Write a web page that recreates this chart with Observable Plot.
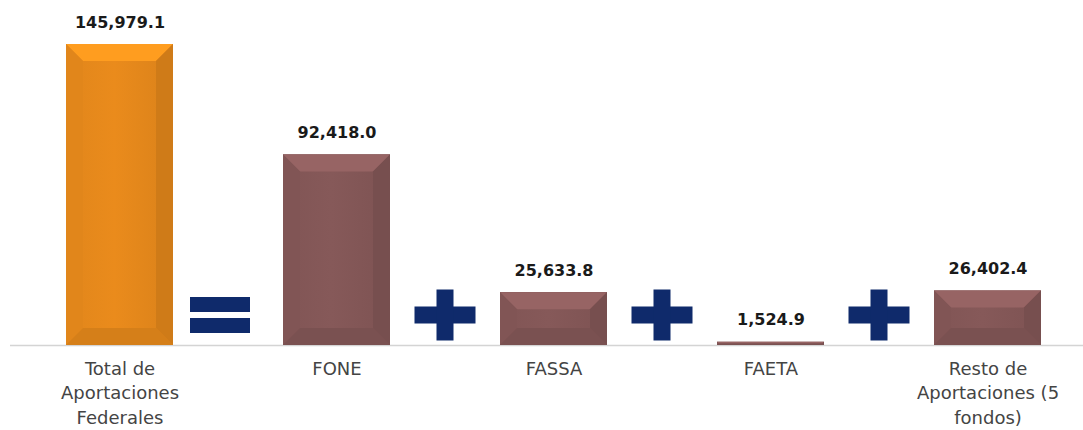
<!DOCTYPE html>
<html>
<head>
<meta charset="utf-8">
<script src="https://cdn.jsdelivr.net/npm/d3@7"></script>
<script src="https://cdn.jsdelivr.net/npm/@observablehq/plot@0.6"></script>
<style>
  html, body { margin: 0; padding: 0; background: #ffffff; }
  #chart svg { display: block; }
</style>
</head>
<body>
<div id="chart"></div>
<script>
// ---- data ----
const categories = ["Total de\nAportaciones\nFederales", "FONE", "FASSA", "FAETA", "Resto de\nAportaciones (5\nfondos)"];
const values = [145979.1, 92418.0, 25633.8, 1524.9, 26402.4];
const operators = ["=", "+", "+", "+"];
const barColors = ["#e5881b", "#835757", "#835757", "#835757", "#835757"];

const data = categories.map((c, i) => ({cat: c, value: values[i], color: barColors[i]}));
const fmt = d3.format(",.1f");
const NAVY = "#0f2a6b";

function bandInfo(x) {
  let bw = typeof x.bandwidth === "function" ? x.bandwidth() : x.bandwidth;
  if (!(bw > 0)) {
    const step = x(categories[1]) - x(categories[0]);
    bw = step * (1 - 0.507);
  }
  return bw;
}

// bevelled bars drawn through the plot's scales
function bevels(index, scales, vals, dims) {
  const {x, y} = scales;
  const bw = bandInfo(x);
  const g = d3.create("svg:g");
  g.append("line")
    .attr("x1", 10).attr("x2", dims.width)
    .attr("y1", y(0) + 0.5).attr("y2", y(0) + 0.5)
    .attr("stroke", "#d4d4d4").attr("stroke-width", 1.5);
  data.forEach((d, i) => {
    const x0 = x(d.cat), x1 = x0 + bw;
    const y0 = y(d.value), y1 = y(0);
    const h = y1 - y0;
    const b = Math.min(17, h / 2, bw / 2);
    const base = d3.color(d.color);
    const gid = "face" + i;
    const grad = g.append("linearGradient").attr("id", gid).attr("x1", 0).attr("x2", 1).attr("y1", 0).attr("y2", 0);
    grad.append("stop").attr("offset", "0%").attr("stop-color", base.darker(0.05).formatHex());
    grad.append("stop").attr("offset", "45%").attr("stop-color", base.brighter(0.06).formatHex());
    grad.append("stop").attr("offset", "100%").attr("stop-color", base.darker(0.12).formatHex());
    g.append("rect").attr("x", x0).attr("y", y0).attr("width", bw).attr("height", h).attr("fill", `url(#${gid})`);
    const poly = (pts, fill) => g.append("polygon").attr("points", pts.map(p => p.join(",")).join(" ")).attr("fill", fill);
    poly([[x0, y0], [x1, y0], [x1 - b, y0 + b], [x0 + b, y0 + b]], base.brighter(0.4).formatHex());
    poly([[x0, y0], [x0 + b, y0 + b], [x0 + b, y1 - b], [x0, y1]], base.darker(0.05).formatHex());
    poly([[x1, y0], [x1, y1], [x1 - b, y1 - b], [x1 - b, y0 + b]], base.darker(0.28).formatHex());
    poly([[x0, y1], [x0 + b, y1 - b], [x1 - b, y1 - b], [x1, y1]], base.darker(0.2).formatHex());
  });
  return g.node();
}

// operators ("=" and "+") placed between the bars
function operatorMarks(index, scales) {
  const {x, y} = scales;
  const bw = bandInfo(x);
  const g = d3.create("svg:g").attr("fill", NAVY);
  operators.forEach((op, i) => {
    const cx = (x(categories[i]) + bw + x(categories[i + 1])) / 2;
    const cy = y(0) - 30;
    if (op === "=") {
      const w = 60, t = 15, gap = 6, shift = -8;
      g.append("rect").attr("x", cx - w / 2 + shift).attr("y", cy - gap / 2 - t).attr("width", w).attr("height", t);
      g.append("rect").attr("x", cx - w / 2 + shift).attr("y", cy + gap / 2).attr("width", w).attr("height", t);
    } else {
      const w = 61, hh = 51, t = 17;
      g.append("rect").attr("x", cx - w / 2).attr("y", cy - t / 2).attr("width", w).attr("height", t);
      g.append("rect").attr("x", cx - t / 2).attr("y", cy - hh / 2).attr("width", t).attr("height", hh);
    }
  });
  return g.node();
}

const chart = Plot.plot({
  width: 1083,
  height: 430,
  marginTop: 44,
  marginBottom: 85,
  marginLeft: 66,
  marginRight: 42,
  style: {fontFamily: "'DejaVu Sans', sans-serif", background: "#ffffff", overflow: "visible"},
  x: {domain: categories, paddingInner: 0.507, paddingOuter: 0, label: null},
  y: {domain: [0, 145979.1], axis: null},
  marks: [
    Plot.barY(data, {x: "cat", y: "value", fill: "color"}),
    bevels,
    operatorMarks,
    Plot.text(data, {x: "cat", y: "value", text: d => fmt(d.value), dy: -22, fontSize: 16, fontWeight: "bold", fill: "#1a1a1a"}),
    Plot.axisX({tickSize: 0, tickPadding: 12, fontSize: 18, lineHeight: 1.36, fill: "#444444", textAnchor: "middle", label: null})
  ]
});
document.getElementById("chart").append(chart);
</script>
</body>
</html>
